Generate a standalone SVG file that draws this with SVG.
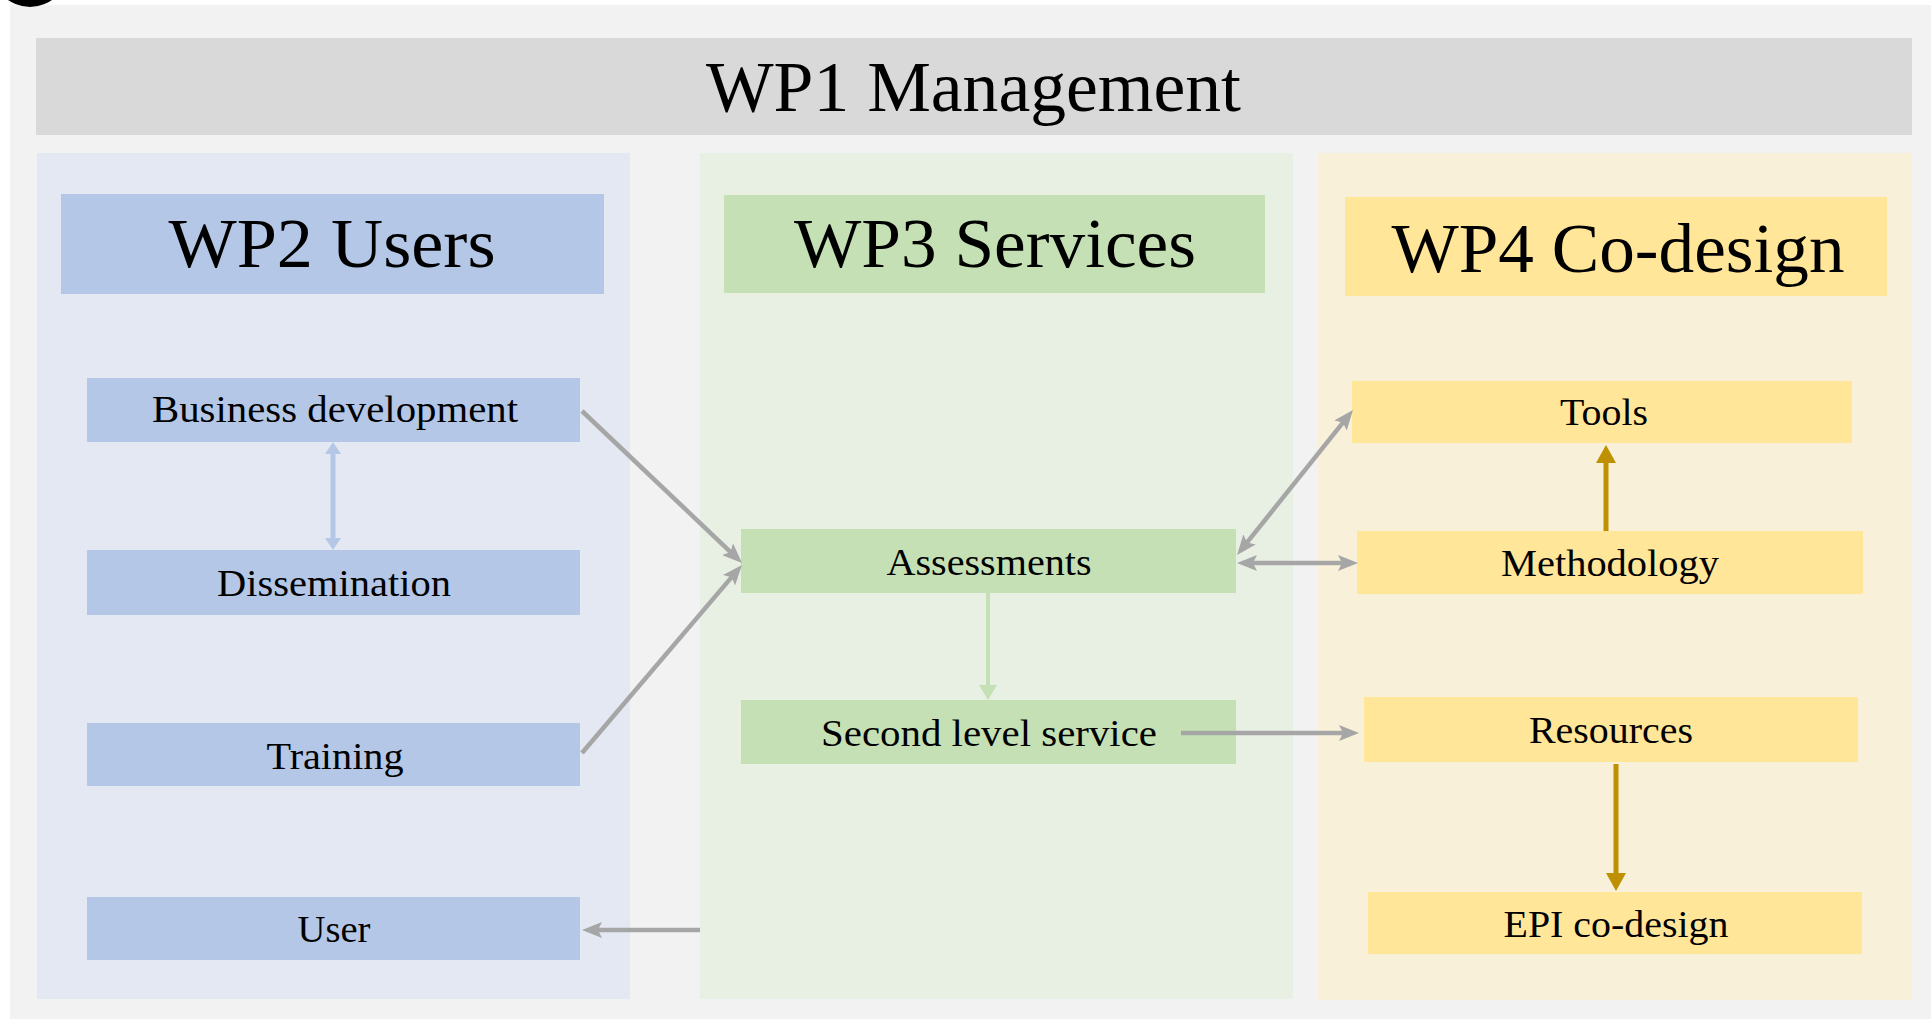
<svg xmlns="http://www.w3.org/2000/svg" width="1931" height="1019" viewBox="0 0 1931 1019">
<style>
  text { font-family: "Liberation Serif", "Times New Roman", serif; fill: #000; text-anchor: middle; }
  .h { font-size: 70px; }
  .t { font-size: 38px; }
  .c { fill: none; stroke-linecap: butt; }
  .g { stroke: #a6a6a6; stroke-width: 4.5; }
  .bl { stroke: #b4c7e7; stroke-width: 5; }
  .gr { stroke: #c5e0b4; stroke-width: 4; }
  .go { stroke: #bf9000; stroke-width: 5; }
  .b2 { fill: #b4c7e7; }
  .b3 { fill: #c5e0b4; }
  .b4 { fill: #ffe699; }
</style>
<defs>
  <marker id="ag" markerUnits="userSpaceOnUse" markerWidth="20" markerHeight="16" refX="10" refY="8" orient="auto-start-reverse" viewBox="0 0 20 16"><path d="M0,0 L20,8 L0,16 L4,8 z" fill="#a6a6a6"/></marker>
  <marker id="ab" markerUnits="userSpaceOnUse" markerWidth="12" markerHeight="16" refX="6" refY="8" orient="auto-start-reverse" viewBox="0 0 12 16"><path d="M0,0 L12,8 L0,16 z" fill="#b4c7e7"/></marker>
  <marker id="agr" markerUnits="userSpaceOnUse" markerWidth="15" markerHeight="18" refX="7.5" refY="9" orient="auto" viewBox="0 0 15 18"><path d="M0,0 L15,9 L0,18 z" fill="#c5e0b4"/></marker>
  <marker id="ago" markerUnits="userSpaceOnUse" markerWidth="18" markerHeight="20" refX="9" refY="10" orient="auto" viewBox="0 0 18 20"><path d="M0,0 L18,10 L0,20 z" fill="#bf9000"/></marker>
</defs>
<rect x="0" y="0" width="1931" height="1019" fill="#ffffff"/>
<rect x="10" y="5" width="1921" height="1014" fill="#f2f2f2"/>
<circle cx="30" cy="-31" r="38" fill="#000"/>

<g id="wp1">
  <rect x="36" y="38" width="1876" height="97" fill="#d9d9d9"/>
  <text class="h" x="973.5" y="111" style="font-size:72px" textLength="535" lengthAdjust="spacingAndGlyphs">WP1 Management</text>
</g>

<g id="wp2">
  <rect x="37" y="153" width="593" height="846" fill="#e3e8f2"/>
  <rect class="b2" x="61" y="194" width="543" height="100"/>
  <text class="h" x="332" y="267" textLength="327" lengthAdjust="spacingAndGlyphs">WP2 Users</text>
</g>
<g id="wp3">
  <rect x="700" y="153" width="593" height="846" fill="#e8f0e4"/>
  <rect class="b3" x="724" y="195" width="541" height="98"/>
  <text class="h" x="995" y="267" textLength="402" lengthAdjust="spacingAndGlyphs">WP3 Services</text>
</g>
<g id="wp4">
  <rect x="1318" y="153" width="594" height="847" fill="#f8f0d9"/>
  <rect class="b4" x="1345" y="197" width="542" height="99"/>
  <text class="h" x="1618" y="272" textLength="453" lengthAdjust="spacingAndGlyphs">WP4 Co-design</text>
</g>

<g id="business-development">
  <rect class="b2" x="87" y="378" width="493" height="64"/>
  <text class="t" x="335" y="422" textLength="366" lengthAdjust="spacingAndGlyphs">Business development</text>
</g>
<g id="dissemination">
  <rect class="b2" x="87" y="550" width="493" height="65"/>
  <text class="t" x="334" y="596" textLength="234" lengthAdjust="spacingAndGlyphs">Dissemination</text>
</g>
<g id="training">
  <rect class="b2" x="87" y="723" width="493" height="63"/>
  <text class="t" x="335" y="769" textLength="137" lengthAdjust="spacingAndGlyphs">Training</text>
</g>
<g id="user">
  <rect class="b2" x="87" y="897" width="493" height="63"/>
  <text class="t" x="334" y="942" textLength="73" lengthAdjust="spacingAndGlyphs">User</text>
</g>

<g id="assessments">
  <rect class="b3" x="741" y="529" width="495" height="64"/>
  <text class="t" x="989" y="575" textLength="205" lengthAdjust="spacingAndGlyphs">Assessments</text>
</g>
<g id="second-level-service">
  <rect class="b3" x="741" y="700" width="495" height="64"/>
  <text class="t" x="989" y="746" textLength="336" lengthAdjust="spacingAndGlyphs">Second level service</text>
</g>

<g id="tools">
  <rect class="b4" x="1352" y="381" width="500" height="62"/>
  <text class="t" x="1604" y="425" textLength="88" lengthAdjust="spacingAndGlyphs">Tools</text>
</g>
<g id="methodology">
  <rect class="b4" x="1357" y="531" width="506" height="63"/>
  <text class="t" x="1610" y="576" textLength="218" lengthAdjust="spacingAndGlyphs">Methodology</text>
</g>
<g id="resources">
  <rect class="b4" x="1364" y="697" width="494" height="65"/>
  <text class="t" x="1611" y="743" textLength="164" lengthAdjust="spacingAndGlyphs">Resources</text>
</g>
<g id="epi-co-design">
  <rect class="b4" x="1368" y="892" width="494" height="62"/>
  <text class="t" x="1616" y="937" textLength="225" lengthAdjust="spacingAndGlyphs">EPI co-design</text>
</g>

<g id="connectors">
  <line class="c bl" x1="333" y1="448" x2="333" y2="544" marker-start="url(#ab)" marker-end="url(#ab)"/>
  <line class="c g" x1="582" y1="411" x2="734.8" y2="556.1" marker-end="url(#ag)"/>
  <line class="c g" x1="582" y1="753" x2="735.5" y2="572.6" marker-end="url(#ag)"/>
  <line class="c g" x1="1243.3" y1="547.2" x2="1346.7" y2="417.8" marker-start="url(#ag)" marker-end="url(#ag)"/>
  <line class="c g" x1="1247" y1="563" x2="1348" y2="563" marker-start="url(#ag)" marker-end="url(#ag)"/>
  <line class="c gr" x1="988" y1="593" x2="988" y2="692.5" marker-end="url(#agr)"/>
  <line class="c g" x1="1181" y1="733" x2="1349" y2="733" marker-end="url(#ag)"/>
  <line class="c g" x1="700" y1="930" x2="592" y2="930" marker-end="url(#ag)"/>
  <line class="c go" x1="1606" y1="531" x2="1606" y2="454" marker-end="url(#ago)"/>
  <line class="c go" x1="1616" y1="764" x2="1616" y2="882" marker-end="url(#ago)"/>
</g>
</svg>
